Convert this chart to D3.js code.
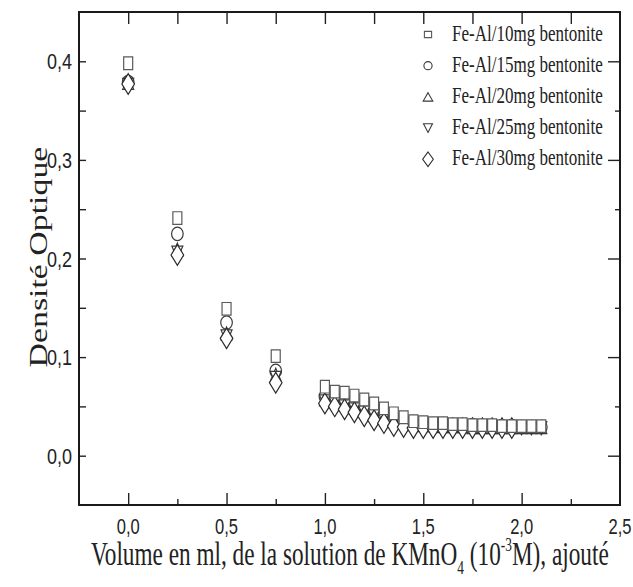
<!DOCTYPE html>
<html><head><meta charset="utf-8">
<script src="https://cdn.jsdelivr.net/npm/d3@7"></script>
<style>body{margin:0;background:#fff} svg{display:block}</style>
</head><body><svg id="c" width="633" height="587"></svg>
<script>
const xValues = [0,0.25,0.5,0.75,1.0,1.05,1.1,1.15,1.2,1.25,1.3,1.35,1.4,1.45,1.5,1.55,1.6,1.65,1.7,1.75,1.8,1.85,1.9,1.95,2.0,2.05,2.1];
const fe10 = [0.398,0.241,0.149,0.101,0.070,0.065,0.064,0.061,0.057,0.053,0.048,0.043,0.039,0.035,0.034,0.033,0.033,0.032,0.032,0.031,0.031,0.031,0.030,0.030,0.030,0.030,0.030];
const fe15 = [0.379,0.225,0.135,0.086,0.060,0.058,0.056,0.053,0.050,0.046,0.042,0.039,0.036,0.034,0.033,0.032,0.032,0.031,0.031,0.031,0.030,0.030,0.030,0.030,0.029,0.029,0.029];
const fe20 = [0.378,0.209,0.124,0.082,0.057,0.055,0.052,0.049,0.046,0.042,0.039,0.036,0.034,0.032,0.031,0.031,0.030,0.030,0.030,0.029,0.029,0.029,0.029,0.029,0.029,0.029,0.029];
const fe25 = [0.376,0.206,0.121,0.079,0.055,0.053,0.050,0.047,0.044,0.040,0.037,0.034,0.032,0.031,0.030,0.029,0.029,0.029,0.029,0.028,0.028,0.028,0.028,0.028,0.028,0.028,0.028];
const fe30 = [0.377,0.2035,0.119,0.074,0.053,0.050,0.047,0.044,0.040,0.036,0.033,0.030,0.029,0.028,0.028,0.028,0.028,0.028,0.028,0.028,0.028,0.028,0.028,0.028];
const seriesNames = ["Fe-Al/10mg bentonite","Fe-Al/15mg bentonite","Fe-Al/20mg bentonite","Fe-Al/25mg bentonite","Fe-Al/30mg bentonite"];
const xTickValues = [0,0.5,1,1.5,2,2.5];
const xTickLabels = ["0,0","0,5","1,0","1,5","2,0","2,5"];
const xMinorValues = [0.25,0.75,1.25,1.75,2.25];
const yTickValues = [0,0.1,0.2,0.3,0.4];
const yTickLabels = ["0,0","0,1","0,2","0,3","0,4"];
const yMinorValues = [0.05,0.15,0.25,0.35];

const svg = d3.select("#c");
const L=79, R=620, T=12, B=505;
const x = d3.scaleLinear().domain([-0.25,2.5]).range([L,R]);
const y = d3.scaleLinear().domain([-0.05,0.45]).range([B,T]);
const SANS = "Liberation Sans, Arial, sans-serif";
const SERIF = "Liberation Serif, Times New Roman, serif";

function tickAxis(axis, tf, vals, size){
  const g = svg.append("g").attr("transform", tf)
    .call(axis.tickValues(vals).tickSizeInner(size).tickSizeOuter(0).tickFormat(""));
  g.select(".domain").remove();
  g.selectAll("line").attr("stroke","#222").attr("stroke-width",1.4);
}
tickAxis(d3.axisBottom(x), `translate(0,${B})`, xTickValues.filter(v=>v<2.5), -12);
tickAxis(d3.axisBottom(x), `translate(0,${B})`, xMinorValues, -6);
tickAxis(d3.axisTop(x), `translate(0,${T})`, xTickValues.filter(v=>v<2.5).concat(xMinorValues), -12);
tickAxis(d3.axisLeft(y), `translate(${L},0)`, yTickValues.concat(yMinorValues), -7);
tickAxis(d3.axisRight(y), `translate(${R},0)`, yTickValues, -12);
tickAxis(d3.axisRight(y), `translate(${R},0)`, yMinorValues, -5);

svg.append("rect").attr("x",L).attr("y",T).attr("width",R-L).attr("height",B-T)
  .attr("fill","none").attr("stroke","#1a1a1a").attr("stroke-width",2);

function fit(t, ax, ay, width, anchor, rot){
  t.attr("x",0).attr("y",0).attr("text-anchor","start");
  const bb = t.node().getBBox();
  const s = width / bb.width;
  let off = -bb.x*s;
  if(anchor==="middle") off -= width/2;
  if(anchor==="end") off -= width;
  t.attr("transform",`translate(${ax},${ay})${rot?` rotate(${rot})`:""} translate(${off},0) scale(${s},1)`);
}

xTickValues.forEach((v,i)=>{
  const t = svg.append("text").attr("font-family",SANS).attr("font-size",22.5).attr("fill","#222").text(xTickLabels[i]);
  fit(t, x(v), 534, 23, "middle");
});
yTickValues.forEach((v,i)=>{
  const t = svg.append("text").attr("font-family",SANS).attr("font-size",22.5).attr("fill","#222").text(yTickLabels[i]);
  fit(t, 72, y(v)+8, 25, "end");
});

function shape(type, w, h){
  switch(type){
    case "square": return `M${-w},${-h}H${w}V${h}H${-w}Z`;
    case "circle": return `M${-w},0A${w},${h} 0 1,0 ${w},0A${w},${h} 0 1,0 ${-w},0Z`;
    case "up": return `M0,${-h}L${w},${h}L${-w},${h}Z`;
    case "down": return `M0,${h}L${w},${-h}L${-w},${-h}Z`;
    case "diamond": return `M0,${-h}L${w},0L0,${h}L${-w},0Z`;
  }
}
const series = [
  {name:seriesNames[0], vals:fe10, type:"square", w:4.5, h:6.3, lw:3.6, lh:3.1, col:"#5a5a5a"},
  {name:seriesNames[1], vals:fe15, type:"circle", w:5.8, h:6.7, lw:4.1, lh:4.1, col:"#3a3a3a"},
  {name:seriesNames[2], vals:fe20, type:"up", w:5.5, h:6.5, lw:4.8, lh:4.2, col:"#3a3a3a"},
  {name:seriesNames[3], vals:fe25, type:"down", w:5.5, h:6.5, lw:4.5, lh:4.3, col:"#3a3a3a"},
  {name:seriesNames[4], vals:fe30, type:"diamond", w:6.3, h:10.3, lw:5.3, lh:7.3, col:"#2a2a2a"}
];
const drawOrder = [1,2,3,4,0];
drawOrder.forEach(si=>{
  const s = series[si];
  svg.append("g").selectAll("path").data(s.vals).join("path")
    .attr("transform",(d,i)=>`translate(${x(xValues[i])},${y(d)})`)
    .attr("d", shape(s.type,s.w,s.h))
    .attr("fill","#fff").attr("stroke",s.col).attr("stroke-width",1.2);
});

series.forEach((s,i)=>{
  const base = 40.5 + i*31.2;
  svg.append("path").attr("transform",`translate(428,${base-6})`)
    .attr("d", shape(s.type,s.lw,s.lh)).attr("fill","#fff").attr("stroke",s.col).attr("stroke-width",1.1);
  const t = svg.append("text").attr("font-family",SERIF).attr("font-size",24).attr("fill","#222").text(s.name);
  fit(t, 452, base, 151, "start");
});

const yt = svg.append("text").attr("font-family",SERIF).attr("font-size",25).attr("fill","#222").text("Densité Optique");
fit(yt, 47, 257, 221, "middle", -90);

const xt = svg.append("text").attr("font-family",SERIF).attr("font-size",33).attr("fill","#222");
xt.append("tspan").text("Volume en ml, de la solution de KMnO");
xt.append("tspan").attr("font-size",19).attr("dy",9).text("4");
xt.append("tspan").attr("dy",-9).text(" (10");
xt.append("tspan").attr("font-size",19).attr("dy",-14).text("-3");
xt.append("tspan").attr("dy",14).text("M), ajouté");
fit(xt, 91, 565, 518, "start");
</script></body></html>
